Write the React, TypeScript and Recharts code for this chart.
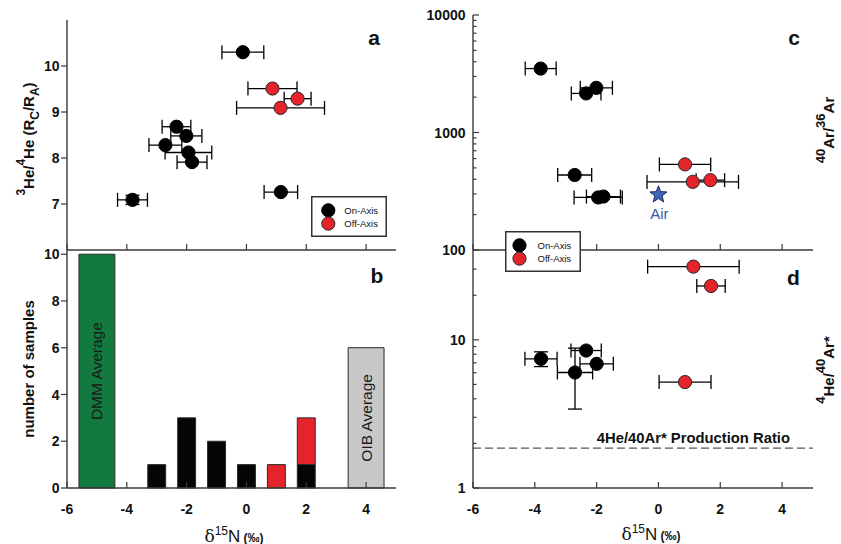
import React from 'react';
import {
  ComposedChart,
  Scatter,
  XAxis,
  YAxis,
  ErrorBar,
  ReferenceArea,
  ReferenceLine,
  Legend,
} from 'recharts';

const W = 841;
const H = 544;
const FONT = '"Liberation Sans", Arial, Helvetica, sans-serif';
const AX = '#3a3a3a';
const RED = '#e5232b';
const GREEN = '#127a3e';
const GREY = '#c8c8c8';
const BLUE = '#3f66b6';

// ---------- shared x ticks ----------
const xTicks = [-6, -4, -2, 0, 2, 4];

// ---------- Panel a: 3He/4He vs d15N ----------
const aOnX = [-0.12, -2.34, -2.01, -2.71, -1.94, -1.82, 1.15, -3.81];
const aOnY = [10.3, 8.68, 8.48, 8.28, 8.12, 7.91, 7.26, 7.09];
const aOnXErr = [0.7, 0.48, 0.52, 0.55, 0.78, 0.5, 0.56, 0.5];
const aOnYErr = [0, 0, 0, 0, 0, 0, 0, 0.1];
const aOffX = [0.87, 1.71, 1.14];
const aOffY = [9.51, 9.29, 9.09];
const aOffXErr = [0.82, 0.45, 1.47];
const aYTicks = [7, 8, 9, 10];

// ---------- Panel b: histogram ----------
const binCenters = [-3, -2, -1, 0, 1, 2];
const onAxisCounts = [1, 3, 2, 1, 0, 1];
const offAxisCounts = [0, 0, 0, 0, 1, 2];
const avgNames = ['DMM Average', 'OIB Average'];
const avgCenters = [-5, 4];
const avgCounts = [10, 6];
const bYTicks = [0, 2, 4, 6, 8, 10];

// ---------- Panel c: 40Ar/36Ar ----------
const cOnX = [-3.81, -2.01, -2.34, -2.71, -1.95, -1.78];
const cOnY = [3500, 2400, 2150, 435, 280, 285];
const cOnXErr = [0.5, 0.52, 0.48, 0.55, 0.78, 0.55];
const cOffX = [0.86, 1.11, 1.68];
const cOffY = [535, 380, 393];
const cOffXErr = [0.83, 1.48, 0.46];
const airX = [0];
const airY = [295.5];
const airName = ['Air'];
const cYTicks = [100, 200, 300, 400, 500, 600, 700, 800, 900, 1000, 2000, 3000, 4000, 5000, 6000, 7000, 8000, 9000, 10000];
const cYLabels = [100, 1000, 10000];

// ---------- Panel d: 4He/40Ar* ----------
const dOnX = [-3.8, -2.34, -2.0, -2.7];
const dOnY = [7.45, 8.47, 6.89, 6.02];
const dOnXErr = [0.52, 0.49, 0.54, 0.57];
const dOnYErrLow = [0.85, 0, 0, 2.61];
const dOnYErrHigh = [0.85, 0, 0, 2.77];
const dOffX = [1.13, 1.7, 0.86];
const dOffY = [31.2, 23.1, 5.19];
const dOffXErr = [1.48, 0.46, 0.84];
const productionRatio = 1.86;
const productionLabel = '4He/40Ar* Production Ratio';
const dYTicks = [1, 2, 3, 4, 5, 6, 7, 8, 9, 10, 20, 30];
const dYLabels = [1, 10];

const legendNames = ['On-Axis', 'Off-Axis'];

// ---------- derived tables ----------
const aOn = aOnX.map((x, i) => ({ x, y: aOnY[i], xerr: aOnXErr[i], yerr: aOnYErr[i] }));
const aOff = aOffX.map((x, i) => ({ x, y: aOffY[i], xerr: aOffXErr[i] }));
const cOn = cOnX.map((x, i) => ({ x, y: cOnY[i], xerr: cOnXErr[i] }));
const cOff = cOffX.map((x, i) => ({ x, y: cOffY[i], xerr: cOffXErr[i] }));
const air = airX.map((x, i) => ({ x, y: airY[i], name: airName[i] }));
const dOn = dOnX.map((x, i) => ({ x, y: dOnY[i], xerr: dOnXErr[i], yerr: [dOnYErrLow[i], dOnYErrHigh[i]] }));
const dOff = dOffX.map((x, i) => ({ x, y: dOffY[i], xerr: dOffXErr[i] }));

const YW = 50;
const XH = 34;
const BIN_W = 0.6;
const AVG_W = 1.2;

function XTickMark(props: any) {
  const { x, y, payload, inward, showLabel } = props;
  return (
    <g>
      <line x1={x} x2={x} y1={y} y2={y + inward * 6} stroke={AX} strokeWidth={1.2} />
      {showLabel ? (
        <text x={x} y={y + 26} textAnchor="middle" fontFamily={FONT} fontWeight="bold" fontSize={14} fill="#111">
          {payload.value}
        </text>
      ) : null}
    </g>
  );
}

function YTickMark(props: any) {
  const { x, y, payload, dir, majors, labelled } = props;
  const v = payload.value;
  const major = majors.includes(v);
  const len = major ? 6 : 3.5;
  return (
    <g>
      <line x1={x} x2={x + dir * len} y1={y} y2={y} stroke={AX} strokeWidth={1.2} />
      {labelled.includes(v) ? (
        <text x={x - 7.5} y={y} dy="0.36em" textAnchor="end" fontFamily={FONT} fontWeight="bold" fontSize={14} fill="#111">
          {v}
        </text>
      ) : null}
    </g>
  );
}

function Dot(color: string) {
  return (p: any) => (
    <circle cx={p.cx} cy={p.cy} r={6.6} fill={color} stroke={color === RED ? '#2a2a2a' : '#000'} strokeWidth={1} />
  );
}

function StarShape(p: any) {
  const { cx, cy, payload } = p;
  const pts: string[] = [];
  for (let i = 0; i < 10; i++) {
    const r = i % 2 === 0 ? 9 : 3.8;
    const a = -Math.PI / 2 + (i * Math.PI) / 5;
    pts.push(`${cx + r * Math.cos(a)},${cy + r * Math.sin(a)}`);
  }
  return (
    <g>
      <polygon points={pts.join(' ')} fill={BLUE} stroke="#1d2c66" strokeWidth={1} />
      <text x={cx + 1} y={cy + 24.5} textAnchor="middle" fontFamily={FONT} fontSize={15} fill="#3b55a8">
        {payload.name}
      </text>
    </g>
  );
}

function LegendBox({ cx, tx }: { cx: number; tx: number }) {
  return (
    <svg width={76} height={41} style={{ display: 'block' }}>
      <rect x={0.75} y={0.75} width={74.5} height={39.5} fill="#fff" stroke="#333" strokeWidth={1.5} />
      <circle cx={cx} cy={14.3} r={6.6} fill="#000" stroke="#000" />
      <circle cx={cx} cy={27.6} r={6.6} fill={RED} stroke="#2a2a2a" />
      <text x={tx} y={14.3} dy="0.35em" fontFamily={FONT} fontSize={9.5} fill="#111">{legendNames[0]}</text>
      <text x={tx} y={27.6} dy="0.35em" fontFamily={FONT} fontSize={9.5} fill="#111">{legendNames[1]}</text>
    </svg>
  );
}

function VLabel(props: any) {
  const { viewBox, text } = props;
  const cx = viewBox.x + viewBox.width / 2;
  const cy = viewBox.y + viewBox.height / 2;
  return (
    <text
      x={cx}
      y={cy}
      transform={`rotate(-90 ${cx} ${cy})`}
      textAnchor="middle"
      dominantBaseline="central"
      fontFamily={FONT}
      fontSize={15.5}
      fill="#1a1a1a"
    >
      {text}
    </text>
  );
}

function ProdLabel(props: any) {
  const { viewBox } = props;
  return (
    <text
      x={viewBox.x + viewBox.width - 23}
      y={viewBox.y - 5.5}
      textAnchor="end"
      fontFamily={FONT}
      fontWeight="bold"
      fontSize={14.8}
      fill="#111"
    >
      {productionLabel}
    </text>
  );
}

type PanelProps = {
  box: { l: number; r: number; t: number; b: number };
  yDomain: [number, number];
  log?: boolean;
  yTicks: number[];
  yMajors: number[];
  yLabelled: number[];
  leftDir: number;
  xLabels: boolean;
  children?: React.ReactNode;
};

function Panel({ box, yDomain, log, yTicks, yMajors, yLabelled, leftDir, xLabels, children }: PanelProps) {
  const margin = { left: box.l - YW, right: W - box.r, top: box.t, bottom: H - box.b - XH };
  const axisLine = { stroke: AX, strokeWidth: 1.4 };
  const scale = log ? 'log' : 'linear';
  return (
    <div style={{ position: 'absolute', left: 0, top: 0, width: W, height: H }}>
      <ComposedChart width={W} height={H} margin={margin}>
        <XAxis
          xAxisId="b"
          orientation="bottom"
          type="number"
          dataKey="x"
          domain={[-6, 5]}
          ticks={xTicks}
          interval={0}
          allowDataOverflow
          height={XH}
          tickSize={0}
          tickMargin={0}
          tickLine={false}
          axisLine={axisLine}
          tick={(p: any) => <XTickMark {...p} inward={-1} showLabel={xLabels} />}
        />
        <XAxis
          xAxisId="t"
          orientation="top"
          type="number"
          domain={[-6, 5]}
          ticks={xTicks}
          interval={0}
          allowDataOverflow
          height={0}
          tickSize={0}
          tickMargin={0}
          tickLine={false}
          axisLine={axisLine}
          tick={(p: any) => <XTickMark {...p} inward={1} showLabel={false} />}
        />
        <YAxis
          yAxisId="l"
          orientation="left"
          type="number"
          dataKey="y"
          scale={scale}
          domain={yDomain}
          ticks={yTicks}
          interval={0}
          allowDataOverflow
          width={YW}
          tickSize={0}
          tickMargin={0}
          tickLine={false}
          axisLine={axisLine}
          tick={(p: any) => <YTickMark {...p} dir={leftDir} majors={yMajors} labelled={yLabelled} />}
        />
        <YAxis
          yAxisId="r"
          orientation="right"
          type="number"
          scale={scale}
          domain={yDomain}
          ticks={yTicks}
          interval={0}
          allowDataOverflow
          width={0}
          tickSize={0}
          tickMargin={0}
          tickLine={false}
          axisLine={axisLine}
          tick={(p: any) => <YTickMark {...p} dir={-1} majors={yMajors} labelled={[]} />}
        />
        {children}
      </ComposedChart>
    </div>
  );
}

const errProps = { stroke: '#000', strokeWidth: 1.3, width: 7 };

function PanelA() {
  return (
    <Panel box={{ l: 67, r: 396, t: 20, b: 250 }} yDomain={[6, 11]} yTicks={aYTicks} yMajors={aYTicks} yLabelled={aYTicks} leftDir={-1} xLabels={false}>
      <Legend
        layout="vertical"
        align="center"
        verticalAlign="middle"
        wrapperStyle={{ left: 311, top: 196, width: 76, height: 41 }}
        content={() => <LegendBox cx={17.3} tx={33.3} />}
      />
      <Scatter data={aOn} xAxisId="b" yAxisId="l" isAnimationActive={false} shape={Dot('#000')}>
        <ErrorBar dataKey="xerr" direction="x" {...errProps} />
        <ErrorBar dataKey="yerr" direction="y" {...errProps} />
      </Scatter>
      <Scatter data={aOff} xAxisId="b" yAxisId="l" isAnimationActive={false} shape={Dot(RED)}>
        <ErrorBar dataKey="xerr" direction="x" {...errProps} />
      </Scatter>
    </Panel>
  );
}

function PanelB() {
  const stroke = '#2a2a2a';
  return (
    <Panel box={{ l: 67, r: 396, t: 250, b: 488 }} yDomain={[0, 10.18]} yTicks={bYTicks} yMajors={bYTicks} yLabelled={bYTicks} leftDir={-1} xLabels>
      {avgCenters.map((c, i) => (
        <ReferenceArea
          key={'avg' + i}
          xAxisId="b"
          yAxisId="l"
          x1={c - AVG_W / 2}
          x2={c + AVG_W / 2}
          y1={0}
          y2={avgCounts[i]}
          fill={i === 0 ? GREEN : GREY}
          fillOpacity={1}
          stroke={stroke}
          strokeWidth={1}
          label={(p: any) => <VLabel {...p} text={avgNames[i]} />}
        />
      ))}
      {binCenters.map((c, i) =>
        onAxisCounts[i] > 0 ? (
          <ReferenceArea
            key={'on' + i}
            xAxisId="b"
            yAxisId="l"
            x1={c - BIN_W / 2}
            x2={c + BIN_W / 2}
            y1={0}
            y2={onAxisCounts[i]}
            fill="#050505"
            fillOpacity={1}
            stroke={stroke}
            strokeWidth={1}
          />
        ) : null
      )}
      {binCenters.map((c, i) =>
        offAxisCounts[i] > 0 ? (
          <ReferenceArea
            key={'off' + i}
            xAxisId="b"
            yAxisId="l"
            x1={c - BIN_W / 2}
            x2={c + BIN_W / 2}
            y1={onAxisCounts[i]}
            y2={onAxisCounts[i] + offAxisCounts[i]}
            fill={RED}
            fillOpacity={1}
            stroke={stroke}
            strokeWidth={1}
          />
        ) : null
      )}
    </Panel>
  );
}

function PanelC() {
  return (
    <Panel box={{ l: 473, r: 813, t: 15, b: 250 }} log yDomain={[100, 10000]} yTicks={cYTicks} yMajors={cYLabels} yLabelled={cYLabels} leftDir={1} xLabels={false}>
      <Legend
        layout="vertical"
        align="center"
        verticalAlign="middle"
        wrapperStyle={{ left: 505, top: 231, width: 76, height: 41 }}
        content={() => <LegendBox cx={14.5} tx={32.5} />}
      />
      <Scatter data={air} xAxisId="b" yAxisId="l" isAnimationActive={false} shape={StarShape} />
      <Scatter data={cOn} xAxisId="b" yAxisId="l" isAnimationActive={false} shape={Dot('#000')}>
        <ErrorBar dataKey="xerr" direction="x" {...errProps} />
      </Scatter>
      <Scatter data={cOff} xAxisId="b" yAxisId="l" isAnimationActive={false} shape={Dot(RED)}>
        <ErrorBar dataKey="xerr" direction="x" {...errProps} />
      </Scatter>
    </Panel>
  );
}

function PanelD() {
  return (
    <Panel box={{ l: 473, r: 813, t: 250, b: 488 }} log yDomain={[1, 40.4]} yTicks={dYTicks} yMajors={dYLabels} yLabelled={dYLabels} leftDir={1} xLabels>
      <ReferenceLine
        xAxisId="b"
        yAxisId="l"
        y={productionRatio}
        stroke="#555"
        strokeWidth={1.3}
        strokeDasharray="8 4"
        label={(p: any) => <ProdLabel {...p} />}
      />
      <Scatter data={dOn} xAxisId="b" yAxisId="l" isAnimationActive={false} shape={Dot('#000')}>
        <ErrorBar dataKey="xerr" direction="x" {...errProps} />
        <ErrorBar dataKey="yerr" direction="y" {...errProps} />
      </Scatter>
      <Scatter data={dOff} xAxisId="b" yAxisId="l" isAnimationActive={false} shape={Dot(RED)}>
        <ErrorBar dataKey="xerr" direction="x" {...errProps} />
      </Scatter>
    </Panel>
  );
}

const SUP = { baselineShift: 'super', fontSize: 12 } as any;
const SUB = { baselineShift: 'sub', fontSize: 12 } as any;

function XTitle({ cx, y }: { cx: number; y: number }) {
  return (
    <text x={cx} y={y} textAnchor="middle" fill="#111">
      <tspan fontFamily="'DejaVu Serif', 'Liberation Serif', serif" fontSize={17}>δ</tspan>
      <tspan fontFamily={FONT} fontSize={12} baselineShift="super">15</tspan>
      <tspan fontFamily={FONT} fontSize={17}>N</tspan>
      <tspan fontFamily={FONT} fontSize={12} fontWeight="bold"> (‰)</tspan>
    </text>
  );
}

function Overlay() {
  const letter = { fontFamily: FONT, fontWeight: 'bold', fontSize: 21, fill: '#111', textAnchor: 'middle' } as any;
  return (
    <svg width={W} height={H} style={{ position: 'absolute', left: 0, top: 0, pointerEvents: 'none' }}>
      <text x={374} y={45} {...letter}>a</text>
      <text x={377} y={283} {...letter}>b</text>
      <text x={794} y={45} {...letter}>c</text>
      <text x={793.5} y={285} {...letter}>d</text>

      <text x={28} y={139} transform="rotate(-90 28 139)" textAnchor="middle" dominantBaseline="central" fontFamily={FONT} fontWeight="bold" fontSize={15} fill="#111">
        <tspan {...SUP}>3</tspan>
        <tspan>He/</tspan>
        <tspan {...SUP}>4</tspan>
        <tspan>He (R</tspan>
        <tspan {...SUB}>C</tspan>
        <tspan>/R</tspan>
        <tspan {...SUB}>A</tspan>
        <tspan>)</tspan>
      </text>
      <text x={28} y={369} transform="rotate(-90 28 369)" textAnchor="middle" dominantBaseline="central" fontFamily={FONT} fontWeight="bold" fontSize={15} fill="#111">
        number of samples
      </text>
      <text x={828} y={130} transform="rotate(-90 828 130)" textAnchor="middle" dominantBaseline="central" fontFamily={FONT} fontWeight="bold" fontSize={15} fill="#111">
        <tspan baselineShift="super" fontSize={13}>40</tspan>
        <tspan>Ar/</tspan>
        <tspan baselineShift="super" fontSize={13}>36</tspan>
        <tspan>Ar</tspan>
      </text>
      <text x={828} y={370} transform="rotate(-90 828 370)" textAnchor="middle" dominantBaseline="central" fontFamily={FONT} fontWeight="bold" fontSize={15} fill="#111">
        <tspan baselineShift="super" fontSize={13}>4</tspan>
        <tspan>He/</tspan>
        <tspan baselineShift="super" fontSize={13}>40</tspan>
        <tspan>Ar*</tspan>
      </text>

      <XTitle cx={234} y={541.5} />
      <XTitle cx={651} y={540} />
    </svg>
  );
}

export default function App() {
  return (
    <div style={{ position: 'absolute', left: 0, top: 0, width: W, height: H, background: '#fff', fontFamily: FONT }}>
      <PanelA />
      <PanelB />
      <PanelD />
      <PanelC />
      <Overlay />
    </div>
  );
}
